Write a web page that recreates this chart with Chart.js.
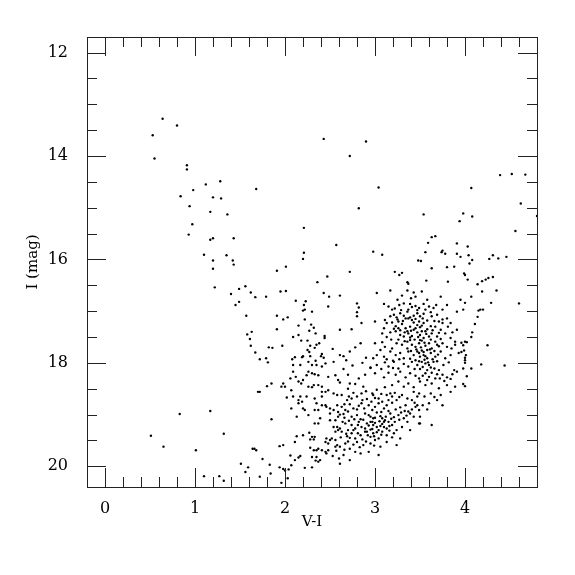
<!DOCTYPE html>
<html>
<head>
<meta charset="utf-8">
<script src="https://cdn.jsdelivr.net/npm/chart.js@4/dist/chart.umd.min.js"></script>
<style>
  html, body { margin: 0; padding: 0; background: #fff; }
  #cmd { display: block; }
</style>
</head>
<body>
<canvas id="cmd" width="575" height="575"></canvas>
<script>
// V-I colour vs I magnitude
const viTicks = [0, 1, 2, 3, 4];
const magTicks = [12, 14, 16, 18, 20];

// bright sparse stars, upper part of the diagram
const brightStars = [
    [0.64,13.28],[0.80,13.41],[0.53,13.60],[0.55,14.05],[0.91,14.18],[0.91,14.26],[1.28,14.49],[1.12,14.55],
    [0.98,14.66],[1.68,14.64],[0.84,14.78],[1.20,14.80],[1.29,14.82],[0.94,14.97],[1.17,15.08],[1.36,15.13],
    [0.97,15.32],[0.93,15.52],[1.20,15.59],[1.17,15.62],[1.43,15.59],[2.21,15.39],[1.10,15.91],[1.35,15.92],
    [1.20,16.02],[1.42,16.02],[1.43,16.10],[1.20,16.18],[2.21,15.87],[2.20,15.99],[2.01,16.14],[1.91,16.22],
    [2.43,13.67],[2.90,13.72],[2.72,14.00],[4.39,14.37],[4.52,14.35],[4.67,14.36],[3.04,14.61],[4.07,14.62],
    [2.82,15.01],[4.62,14.92],[4.80,15.16],[3.54,15.13],[3.98,15.11],[4.08,15.17],[3.94,15.26],[4.56,15.45],
    [2.57,15.72],[2.98,15.85],[3.08,15.91],[3.59,15.68],[3.63,15.57],[3.67,15.55],[3.56,15.86],[3.74,15.86],
    [3.75,15.83],[3.78,15.89],[3.91,15.69],[4.03,15.75],[3.91,15.89],[3.95,15.95],[4.04,15.92],[4.27,15.99],
    [4.31,15.92],[4.37,15.98],[4.46,15.95],[3.48,16.02],[3.51,16.03],[2.72,16.24],[3.22,16.24],[3.27,16.30],
    [3.30,16.26],[3.63,16.17],[3.80,16.15],[3.88,16.14],[3.81,16.43],[3.57,16.41],[3.36,16.44],[3.37,16.47]
];

// red strip on the right edge of the giant branch
const redEdge = [
    [4.08,16.01],[4.05,16.08],[3.99,16.27],[4.00,16.30],[4.03,16.39],[4.19,16.42],[4.23,16.39],[4.26,16.36],
    [4.31,16.34],[4.14,16.48],[4.19,16.62],[4.35,16.60],[4.07,16.72],[3.95,16.78],[4.00,16.84],[4.29,16.84],
    [4.60,16.85],[3.98,16.97],[4.15,16.99],[4.17,16.97],[4.20,16.97],[4.14,17.11],[4.11,17.25],[4.08,17.41],
    [4.07,17.50],[4.00,17.59],[4.02,17.60],[3.96,17.61],[4.25,17.66],[3.98,17.66],[3.99,17.76],[3.96,17.79],
    [4.01,17.85],[4.00,17.90],[4.00,17.95],[4.00,18.00],[4.18,18.03],[4.44,18.05],[3.98,18.11],[4.07,18.11],
    [4.02,18.26],[3.98,18.41],[4.00,18.45]
];

// blue / intermediate stars left of the giants
const blueStars = [
    [1.22,16.54],[1.56,16.52],[1.49,16.57],[1.40,16.67],[1.62,16.64],[1.67,16.73],[1.79,16.72],[1.95,16.62],
    [2.01,16.61],[2.47,16.33],[2.36,16.44],[2.43,16.65],[2.49,16.72],[2.48,16.91],[1.49,16.82],[1.45,16.88],
    [2.12,16.80],[2.23,16.81],[2.21,16.88],[2.22,16.97],[2.20,16.99],[2.30,17.01],[1.57,17.09],[1.91,17.09],
    [1.98,17.16],[2.03,17.12],[2.22,17.16],[2.15,17.28],[2.29,17.26],[2.32,17.32],[2.27,17.38],[1.91,17.35],
    [1.63,17.40],[1.58,17.45],[1.61,17.54],[2.09,17.50],[2.15,17.46],[2.18,17.57],[2.25,17.57],[2.34,17.43],
    [2.44,17.48],[2.44,17.52],[2.38,17.62],[2.35,17.65],[2.28,17.67],[2.33,17.71],[2.53,17.73],[1.62,17.67],
    [1.82,17.70],[1.86,17.71],[1.97,17.67],[1.67,17.80],[2.25,17.75],[2.27,17.79],[2.20,17.87],[2.19,17.89],
    [2.11,17.89],[2.08,17.93],[1.72,17.93],[1.79,17.91],[2.41,17.83],[2.40,17.87],[2.43,17.90],[2.34,17.96],
    [2.61,17.36],[2.61,16.70],[2.80,16.85],[2.82,16.93],[2.80,17.02],[2.80,17.10],[2.85,17.23],[2.74,17.35]
];

// lower-left group and faint stars
const faintStars = [
    [1.81,17.99],[2.09,18.04],[2.17,18.04],[2.26,17.98],[2.30,18.04],[2.45,18.01],[2.41,18.07],[2.35,18.04],
    [2.30,18.20],[2.26,18.17],[2.24,18.24],[2.33,18.22],[2.37,18.24],[2.48,18.27],[2.54,17.98],[2.56,18.24],
    [2.59,18.33],[2.09,18.17],[2.12,18.27],[2.15,18.36],[2.18,18.40],[2.20,18.33],[2.06,18.30],[1.98,18.40],
    [1.96,18.46],[2.00,18.46],[2.07,18.53],[2.09,18.65],[2.02,18.67],[1.85,18.40],[1.80,18.45],[1.70,18.56],
    [1.72,18.56],[2.26,18.46],[2.30,18.47],[2.32,18.43],[2.37,18.43],[2.41,18.46],[2.41,18.56],[2.45,18.56],
    [2.48,18.53],[2.54,18.59],[2.58,18.62],[2.41,18.65],[2.33,18.69],[2.35,18.78],[2.17,18.65],[2.15,18.72],
    [2.19,18.75],[2.15,18.78],[2.24,18.65],[2.07,18.88],[2.20,18.88],[2.22,18.91],[2.26,19.01],[2.33,18.91],
    [2.37,18.91],[2.41,18.82],[2.45,18.82],[2.46,18.85],[2.50,18.88],[2.50,18.98],[2.54,18.91],[2.58,18.82],
    [2.59,18.95],[2.13,19.04],[2.33,19.17],[2.37,19.17],[2.39,19.07],[2.50,19.11],[2.56,19.11],[2.59,19.04],
    [2.58,19.24],[2.54,19.24],[2.56,19.33],[2.59,19.30],[2.27,19.35],[2.30,19.43],[2.33,19.43],[2.32,19.48],
    [2.28,19.48],[2.20,19.40],[2.13,19.42],[2.11,19.53],[2.46,19.46],[2.50,19.49],[2.45,19.53],[2.48,19.56],
    [2.52,19.46],[2.56,19.49],[2.58,19.59],[2.56,19.62],[2.37,19.66],[2.35,19.69],[2.32,19.69],[2.28,19.64],
    [2.41,19.69],[2.45,19.72],[2.46,19.75],[2.48,19.69],[2.35,19.82],[2.39,19.88],[2.37,19.91],[2.30,19.82],
    [2.34,19.89],[2.15,19.83],[2.17,19.80],[2.11,19.88],[2.06,19.79],[1.98,19.59],[1.94,19.61],[2.28,17.87],
    [0.51,19.41],[0.65,19.62],[0.83,18.99],[1.01,19.69],[1.17,18.93],[1.32,19.37],[1.10,20.19],[1.27,20.19],
    [1.32,20.28],[1.64,19.66],[1.66,19.66],[1.68,19.69],[1.85,19.09],[1.75,19.86],[1.51,19.95],[1.59,20.02],
    [1.56,20.11],[1.72,20.20],[1.83,19.97],[1.84,20.14],[1.94,20.02],[1.98,20.05],[2.00,20.08],[2.04,20.06],
    [1.96,20.32],[2.03,20.23],[2.07,19.98],[2.22,20.03],[2.30,20.02]
];

// dense giant clump, upper right
const giantClump = [
    [3.17,16.60],[3.30,16.70],[3.36,16.60],[3.43,16.64],[3.45,16.72],[3.52,16.62],[3.73,16.72],[3.02,16.65],
    [3.10,16.86],[3.15,16.91],[3.19,16.97],[3.27,16.88],[3.32,16.85],[3.39,16.86],[3.45,16.90],[3.54,16.86],
    [3.60,16.91],[3.65,16.94],[3.75,16.97],[3.80,16.88],[3.91,17.01],
    [3.00,17.20],[3.11,17.17],[3.17,17.10],[3.21,17.07],[3.24,17.12],[3.28,17.04],[3.32,17.09],[3.36,17.01],
    [3.37,17.14],[3.43,17.09],[3.47,17.04],[3.50,17.10],[3.54,17.05],[3.63,17.10],[3.69,17.07],[3.75,17.16],
    [3.80,17.14],[3.84,17.23],
    [3.10,17.33],[3.13,17.23],[3.19,17.22],[3.23,17.29],[3.26,17.20],[3.30,17.25],[3.34,17.33],[3.39,17.30],
    [3.43,17.22],[3.47,17.27],[3.50,17.31],[3.54,17.23],[3.58,17.35],[3.62,17.29],[3.67,17.30],[3.73,17.36],
    [3.75,17.23],[3.86,17.41],[3.91,17.36],
    [3.00,17.62],[3.08,17.43],[3.17,17.41],[3.23,17.39],[3.28,17.46],[3.32,17.49],[3.37,17.43],[3.41,17.48],
    [3.47,17.41],[3.50,17.46],[3.54,17.52],[3.56,17.39],[3.60,17.49],[3.63,17.43],[3.69,17.49],[3.73,17.54],
    [3.78,17.43],[3.89,17.59],
    [3.06,17.75],[3.11,17.69],[3.19,17.72],[3.24,17.62],[3.30,17.65],[3.36,17.59],[3.41,17.65],[3.45,17.69],
    [3.49,17.62],[3.52,17.57],[3.56,17.67],[3.60,17.62],[3.63,17.72],[3.69,17.65],[3.75,17.62],[3.80,17.69],
    [3.89,17.65],
    [2.98,17.91],[3.02,17.85],[3.10,17.88],[3.17,17.78],[3.23,17.85],[3.28,17.81],[3.32,17.91],[3.37,17.78],
    [3.43,17.85],[3.49,17.81],[3.52,17.76],[3.56,17.87],[3.62,17.81],[3.67,17.88],[3.73,17.78],[3.78,17.91],
    [3.84,17.85],[3.93,17.81],
    [3.02,18.04],[3.11,17.99],[3.15,18.07],[3.21,17.98],[3.26,18.11],[3.32,18.02],[3.37,18.07],[3.41,17.98],
    [3.47,18.04],[3.50,18.12],[3.56,18.01],[3.62,18.09],[3.65,17.98],[3.71,18.14],[3.76,18.04],[3.82,17.99],
    [3.88,18.14],
    [2.95,18.09],[3.00,18.20],[3.10,18.28],[3.15,18.19],[3.23,18.23],[3.28,18.17],[3.34,18.28],[3.39,18.20],
    [3.45,18.25],[3.49,18.30],[3.56,18.20],[3.60,18.27],[3.63,18.19],[3.67,18.30],[3.75,18.23],[3.80,18.28],
    [3.91,18.17],
    [3.11,18.47],[3.19,18.43],[3.26,18.36],[3.32,18.46],[3.37,18.40],[3.43,18.47],[3.50,18.36],[3.56,18.43],
    [3.63,18.40],[3.71,18.49],[3.80,18.43],[3.89,18.46],
    [3.34,17.14],[3.41,17.17],[3.49,17.20],[3.36,17.39],[3.43,17.36],[3.50,17.56],[3.39,17.56],[3.47,17.78],
    [3.54,17.85],[3.58,17.91],[3.52,17.98],[3.60,18.04],[3.37,16.97],[3.49,16.94],[3.26,17.33],[3.52,17.39],
    [3.58,17.75],[3.50,17.88],
    [2.65,17.87],[2.72,17.78],[2.65,18.12],[2.70,18.23],[2.82,18.30],[2.89,18.23],[2.95,18.10],[2.68,17.95],
    [2.75,18.05],[2.86,18.00],[2.90,17.90],[2.78,17.70],[2.84,17.62],[2.61,17.85],
    [3.22,16.95],[3.29,16.98],[3.41,16.92],[3.47,16.98],[3.56,16.97],[3.62,17.02],[3.25,17.16],[3.31,17.19],
    [3.39,17.12],[3.45,17.15],[3.53,17.14],[3.58,17.18],[3.66,17.19],[3.21,17.34],[3.28,17.37],[3.33,17.41],
    [3.40,17.38],[3.45,17.33],[3.52,17.28],[3.57,17.44],[3.64,17.37],[3.71,17.42],[3.26,17.55],[3.33,17.58],
    [3.39,17.51],[3.44,17.55],[3.48,17.50],[3.55,17.61],[3.62,17.55],[3.67,17.59],[3.71,17.68],[3.36,17.72],
    [3.40,17.77],[3.46,17.74],[3.51,17.70],[3.54,17.79],[3.61,17.74],[3.66,17.77],[3.70,17.84],[3.39,17.92],
    [3.45,17.95],[3.49,17.97],[3.55,17.94],[3.59,17.99],[3.64,17.93],[3.69,17.97],[3.44,18.12],[3.53,18.08],
    [3.58,18.14],[3.66,18.11],[3.69,18.22],[3.53,18.25],[3.58,18.33],[3.72,18.30],[3.77,18.35],[3.84,18.31],
    [3.86,18.22],[3.18,17.55],[3.13,17.50],[3.08,17.60],[3.13,17.93],[3.20,17.96],[3.27,17.93],[3.07,18.12],
    [3.20,18.10],[3.85,17.72],[3.84,17.52],[3.81,17.30],[3.71,17.20],[3.68,16.88],[3.25,16.78],[3.40,16.75],
    [3.58,16.78]
];

// lower diagonal band
const lowerBand = [
    [2.61,18.38],[2.72,18.40],[2.78,18.41],[2.87,18.46],[2.97,18.59],[3.02,18.52],[3.17,18.59],[3.43,18.56],
    [3.49,18.59],
    [2.63,18.62],[2.69,18.72],[2.74,18.69],[2.80,18.65],[2.85,18.59],[2.91,18.70],[2.98,18.62],[3.04,18.69],
    [3.08,18.75],[3.13,18.62],[3.19,18.65],[3.24,18.72],[3.30,18.62],[3.36,18.69],[3.41,18.72],[3.47,18.65],
    [2.63,18.85],[2.67,18.91],[2.72,18.80],[2.76,18.88],[2.82,18.83],[2.85,18.78],[2.93,18.82],[2.97,18.91],
    [3.00,18.85],[3.04,18.78],[3.10,18.88],[3.13,18.82],[3.19,18.77],[3.23,18.90],[3.28,18.86],[3.34,18.82],
    [3.39,18.98],[3.45,18.85],[3.49,18.91],
    [2.65,18.99],[2.70,18.94],[2.74,19.04],[2.80,19.01],[2.84,19.09],[2.89,18.98],[2.95,19.04],[2.98,19.07],
    [3.02,18.96],[3.06,19.03],[3.11,19.11],[3.17,18.98],[3.21,19.05],[3.26,19.01],[3.32,19.07],[3.37,18.94],
    [3.43,19.04],[3.49,19.17],
    [2.61,19.27],[2.67,19.17],[2.70,19.30],[2.74,19.20],[2.78,19.27],[2.82,19.14],[2.85,19.24],[2.91,19.17],
    [2.95,19.29],[3.00,19.16],[3.06,19.22],[3.10,19.14],[3.13,19.27],[3.19,19.20],[3.24,19.30],[3.30,19.24],
    [3.36,19.14],
    [2.63,19.33],[2.69,19.42],[2.74,19.36],[2.78,19.46],[2.84,19.40],[2.89,19.33],[2.95,19.43],[2.98,19.36],
    [3.04,19.46],[3.08,19.33],[3.13,19.40],[3.21,19.36],[3.28,19.46],[3.39,19.30],
    [2.61,19.62],[2.67,19.56],[2.72,19.66],[2.80,19.53],[2.87,19.59],[2.95,19.56],[3.00,19.49],[3.06,19.62],
    [3.13,19.53],[3.24,19.59],
    [2.65,19.78],[2.72,19.88],[2.84,19.75],[2.93,19.72],[3.04,19.78],[2.61,19.95],
    [2.93,19.01],[2.97,19.14],[3.02,19.24],[3.08,19.07],[3.15,19.14],[2.98,19.20],[3.04,19.30],[3.10,19.24],
    [2.95,19.14],[2.91,19.33],
    [3.84,18.56],[3.73,18.62],[3.69,18.72],[3.75,18.82],[3.62,18.59],[3.58,18.90],[3.50,19.04],[3.63,19.20],
    [3.50,19.17],[3.55,18.65],[3.60,18.78],[3.66,18.66],[3.53,18.82],
    [2.66,19.06],[2.71,19.12],[2.77,19.09],[2.81,19.20],[2.87,19.10],[2.89,19.27],[2.93,19.21],[2.97,19.28],
    [3.00,19.06],[3.05,19.13],[3.08,19.18],[3.12,19.04],[3.16,19.22],[3.18,19.08],[3.22,19.14],[3.27,19.10],
    [3.29,18.96],[3.33,18.93],[3.35,19.02],[3.41,18.90],[3.44,18.77],[3.47,18.82],[2.68,19.37],[2.72,19.45],
    [2.76,19.30],[2.81,19.36],[2.86,19.48],[2.92,19.40],[2.99,19.42],[3.02,19.34],[3.07,19.39],[3.16,19.31],
    [3.19,19.44],[2.70,19.52],[2.76,19.58],[2.83,19.63],[2.90,19.52],[2.99,19.60],[2.66,19.68],[2.78,19.72],
    [2.57,19.70],[2.53,19.80],[2.60,19.85],[2.86,18.72],[2.96,18.75],[3.07,18.60],[3.22,18.58],[3.27,18.66],
    [3.15,18.72],[3.00,18.68],[2.90,18.55],[2.76,18.58],[2.70,18.50],[2.66,18.80],[2.71,18.65],[2.80,18.90],
    [2.88,18.88],[3.07,18.95],[3.15,18.93],[2.64,19.14],[2.61,19.00],[2.62,19.44]
];

const allStars = [].concat(brightStars, redEdge, blueStars, faintStars, giantClump, lowerBand)
    .map(s => ({ x: s[0], y: s[1] }));

const serif = '"DejaVu Serif", "Liberation Serif", serif';

// inward ticks on all four sides plus the frame and axis titles
const frameTicks = {
    id: 'frameTicks',
    afterDraw(chart) {
        const ctx = chart.ctx;
        const a = chart.chartArea;
        const xs = chart.scales.x;
        const ys = chart.scales.y;
        ctx.save();
        ctx.strokeStyle = '#222';
        ctx.lineWidth = 1;
        ctx.beginPath();
        for (let i = 0; i <= 25; i++) {
            const v = -0.2 + i * 0.2;
            const px = Math.round(xs.getPixelForValue(v)) + 0.5;
            const len = Math.abs(v - Math.round(v)) < 1e-6 ? 19 : 10;
            ctx.moveTo(px, a.bottom); ctx.lineTo(px, a.bottom - len);
            ctx.moveTo(px, a.top); ctx.lineTo(px, a.top + len);
        }
        for (let i = 0; i <= 16; i++) {
            const v = 12 + i * 0.5;
            const py = Math.round(ys.getPixelForValue(v)) + 0.5;
            const len = v % 2 === 0 ? 19 : 10;
            ctx.moveTo(a.left, py); ctx.lineTo(a.left + len, py);
            ctx.moveTo(a.right, py); ctx.lineTo(a.right - len, py);
        }
        ctx.stroke();
        ctx.strokeRect(Math.round(a.left) + 0.5, Math.round(a.top) + 0.5,
            Math.round(a.right - a.left), Math.round(a.bottom - a.top));

        ctx.fillStyle = '#000';
        ctx.font = '15px ' + serif;
        ctx.textAlign = 'center';
        ctx.textBaseline = 'middle';
        ctx.fillText('V-I', (a.left + a.right) / 2, 522);
        ctx.translate(33, (a.top + a.bottom) / 2);
        ctx.rotate(-Math.PI / 2);
        ctx.fillText('I (mag)', 0, 0);
        ctx.restore();
    }
};

const ctx = document.getElementById('cmd');
new Chart(ctx, {
    type: 'scatter',
    data: {
        datasets: [{
            data: allStars,
            backgroundColor: '#000',
            borderWidth: 0,
            pointRadius: 1.2,
            pointHoverRadius: 1.2
        }]
    },
    options: {
        responsive: false,
        animation: false,
        devicePixelRatio: 1,
        layout: { padding: { left: 0, top: 37, right: 38, bottom: 0 } },
        plugins: { legend: { display: false }, tooltip: { enabled: false } },
        scales: {
            x: {
                type: 'linear',
                min: -0.2,
                max: 4.8,
                afterBuildTicks: (scale) => { scale.ticks = viTicks.map(v => ({ value: v })); },
                afterFit: (scale) => { scale.height = 88; },
                grid: { display: false },
                border: { display: false },
                ticks: { color: '#000', padding: 4, maxRotation: 0, font: { family: serif, size: 16 } }
            },
            y: {
                type: 'linear',
                reverse: true,
                min: 11.7,
                max: 20.4,
                afterBuildTicks: (scale) => { scale.ticks = magTicks.map(v => ({ value: v })); },
                afterFit: (scale) => { scale.width = 87; },
                grid: { display: false },
                border: { display: false },
                ticks: { color: '#000', padding: 11, font: { family: serif, size: 16 } }
            }
        }
    },
    plugins: [frameTicks]
});
</script>
</body>
</html>
